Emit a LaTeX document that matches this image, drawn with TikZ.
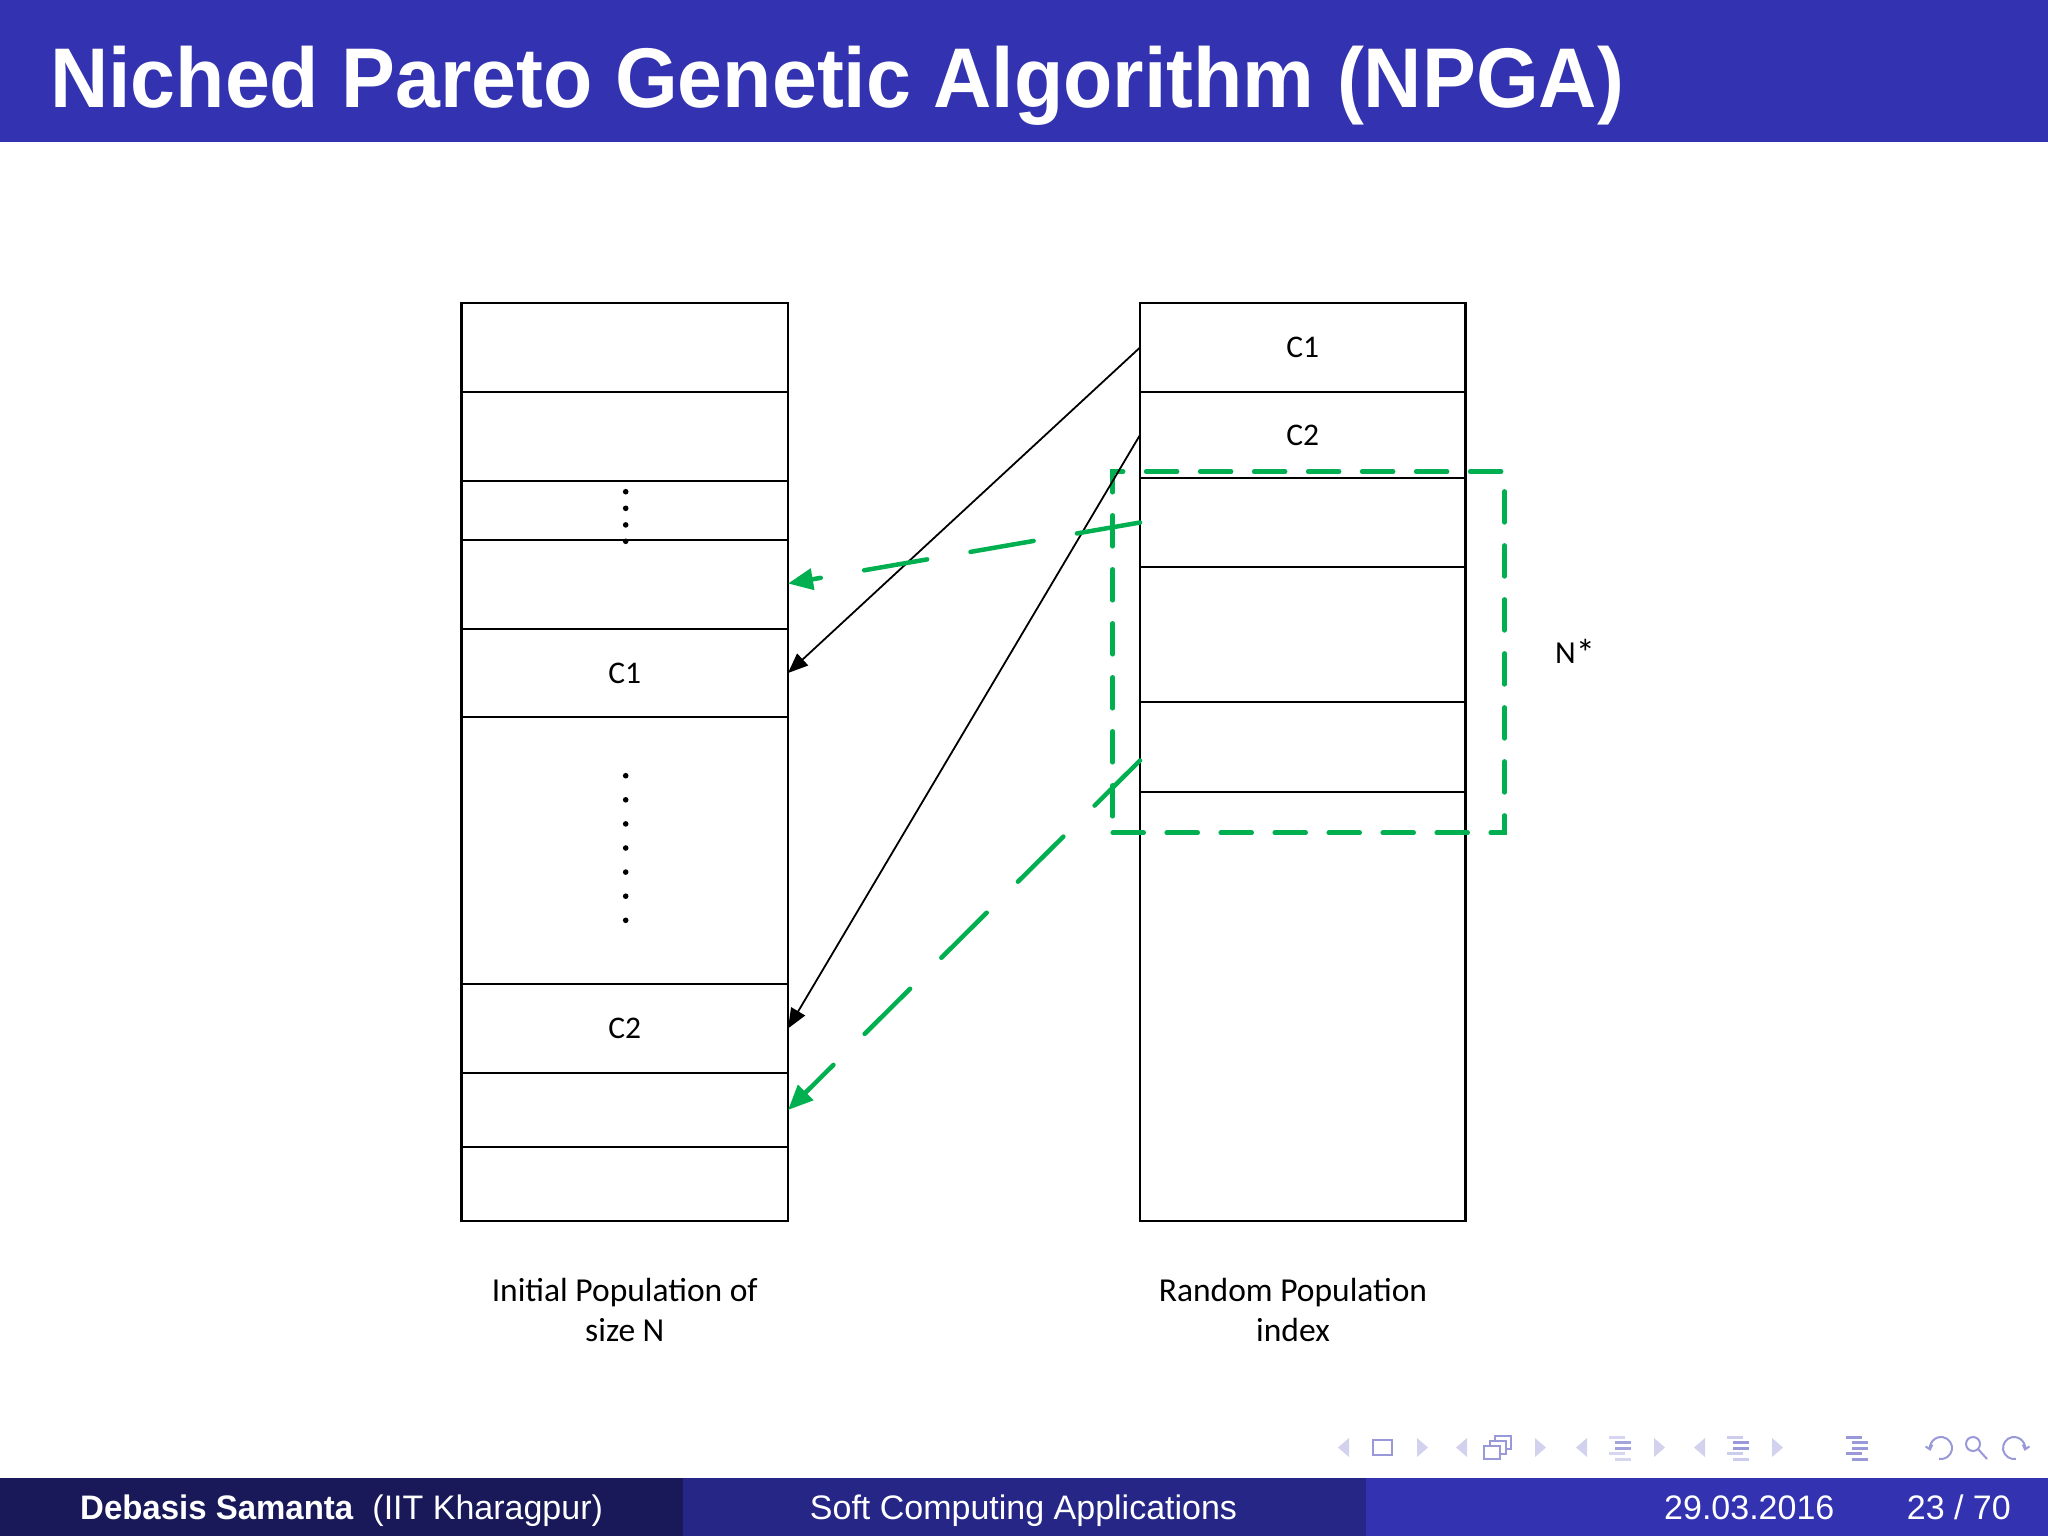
\documentclass[tikz,border=0pt]{standalone}
\usepackage{fontspec}
\setmainfont{Liberation Sans}
\newfontfamily\calib{Carlito}
\usetikzlibrary{arrows.meta}
\definecolor{struct}{rgb}{0.2,0.2,0.7}
\definecolor{pgreen}{HTML}{00B050}
\begin{document}
\begin{tikzpicture}[x=1pt,y=-1pt,
  lrow/.style={draw=black, line width=2.2pt, minimum width=326.5pt, inner sep=0pt, outer sep=0pt, font=\calib\fontsize{31.5}{37}\selectfont},
  rrow/.style={lrow, minimum width=325.5pt},
  blackarrow/.style={draw=black, line width=1.8pt, -{Triangle[length=20pt,width=16pt]}},
  greenarrow/.style={draw=pgreen, line width=4.5pt, line cap=round, dash pattern=on 64pt off 44pt, -{Triangle[length=25pt,width=21pt]}},
  greenbox/.style={draw=pgreen, line width=4.5pt, line cap=round, dash pattern=on 31pt off 23pt, inner sep=0pt, outer sep=0pt},
  caption/.style={font=\calib\fontsize{33.5}{40.5}\selectfont, align=center, inner sep=0pt},
  dotmark/.style={fill=black},
  footer/.style={text=white, inner sep=0pt, font=\fontsize{34}{40}\selectfont},
  navtri/.style={fill=struct!22},
  navicon/.style={draw=struct!50, line width=2pt},
  navbar/.style={line width=3pt}
]
\useasboundingbox (0,0) rectangle (2048,1536);
\fill[white] (0,0) rectangle (2048,1536);
% title bar
\fill[struct] (0,0) rectangle (2048,142);
\node[anchor=base west, text=white, inner sep=0pt, font=\bfseries\fontsize{80.7}{98}\selectfont] (title) at (50,108) {\scalebox{1}[1.05]{Niched Pareto Genetic Algorithm (NPGA)}};
% footer
\fill[struct!50!black] (0,1478) rectangle (683,1536);
\fill[struct!75!black] (683,1478) rectangle (1366,1536);
\fill[struct] (1366,1478) rectangle (2048,1536);
\node[footer, anchor=base west] (author) at (80,1519) {\scalebox{0.97}[1]{\textbf{Debasis Samanta}}~~(IIT Kharagpur)};
\node[footer, anchor=base] (course) at (1023.5,1519) {Soft Computing Applications};
\node[footer, anchor=base west] (date) at (1664,1519) {29.03.2016};
\node[footer, anchor=base east] (page) at (2011,1519) {23 / 70};
% navigation symbols
\foreach \c in {1344,1462,1582,1700} {\fill[navtri] (\c+5,1438) -- (\c-6,1447.5) -- (\c+5,1457) -- cycle;}
\foreach \c in {1422,1540,1659,1777} {\fill[navtri] (\c-5,1438) -- (\c+6,1447.5) -- (\c-5,1457) -- cycle;}
\draw[navicon] (1373,1440) rectangle (1392,1455);
\draw[navicon, fill=white] (1495,1436) rectangle (1511,1449);
\draw[navicon, fill=white] (1490,1441) rectangle (1506,1454);
\draw[navicon, fill=white] (1484,1446) rectangle (1500,1459);
\foreach \c/\lt/\dk in {1620/struct!20/struct!45,1738/struct!25/struct!50,1857/struct!50/struct!50} {
  \draw[navbar, \lt] (\c-11,1437) -- (\c+5,1437);
  \draw[navbar, \dk] (\c-5,1442.5) -- (\c+11,1442.5);
  \draw[navbar, \dk] (\c-5,1448) -- (\c+11,1448);
  \draw[navbar, \lt] (\c-11,1453.5) -- (\c+5,1453.5);
  \draw[navbar, \lt] (\c-5,1459) -- (\c+11,1459);
}
\draw[navicon, -{Straight Barb[length=4pt,width=7pt]}] (1941,1448) ++(100:11) arc[start angle=100, end angle=-195, radius=11];
\draw[navicon] (1973,1444) circle[radius=7];
\draw[navicon] (1978,1449) -- (1987,1459);
\draw[navicon, -{Straight Barb[length=4pt,width=7pt]}] (2014,1448) ++(80:11) arc[start angle=80, end angle=375, radius=11];
% left column
\node[lrow, minimum height=89pt] (L1) at (624.75,347.5) {};
\node[lrow, minimum height=89pt] (L2) at (624.75,436.5) {};
\node[lrow, minimum height=59pt] (L3) at (624.75,510.5) {};
\node[lrow, minimum height=89pt] (L4) at (624.75,584.5) {};
\node[lrow, minimum height=88pt] (L5) at (624.75,673) {C1};
\node[lrow, minimum height=267pt] (L6) at (624.75,850.5) {};
\node[lrow, minimum height=89pt] (L7) at (624.75,1028.5) {C2};
\node[lrow, minimum height=74pt] (L8) at (624.75,1110) {};
\node[lrow, minimum height=74pt] (L9) at (624.75,1184) {};
\foreach \y in {491.7,508.3,524.9,541.3} {\fill[dotmark] (625.7,\y) circle[radius=2.8];}
\foreach \k in {0,...,6} {\fill[dotmark] (625.7,775.7+24.1*\k) circle[radius=2.8];}
% right column
\node[rrow, minimum height=89pt] (R1) at (1302.75,347.5) {C1};
\node[rrow, minimum height=86pt] (R2) at (1302.75,435) {C2};
\node[rrow, minimum height=89pt] (R3) at (1302.75,522.5) {};
\node[rrow, minimum height=135pt] (R4) at (1302.75,634.5) {};
\node[rrow, minimum height=90pt] (R5) at (1302.75,747) {};
\node[rrow, minimum height=429pt] (R6) at (1302.75,1006.5) {};
% N* window
\node[greenbox, minimum width=391.7pt, minimum height=361pt] (win) at (1308.55,652.2) {};
\node[font=\calib\fontsize{32}{38}\selectfont, anchor=base west, inner sep=0pt] (nstar) at (1555,663) {N\raisebox{-3pt}{\scalebox{1.2}{*}}};
% connectors
\draw[blackarrow] (R1.west) -- (L5.east);
\draw[blackarrow] (R2.west) -- (L7.east);
\draw[greenarrow] (R3.west) -- ([yshift=1pt]L4.east);
\draw[greenarrow] ([yshift=-13.5pt]R5.west) -- (L8.east);
% captions
\node[caption, anchor=base] (capL) at (624.8,1341.5) {Initial Population of\\size N};
\node[caption, anchor=base] (capR) at (1293,1341.5) {Random Population\\index};
\end{tikzpicture}
\end{document}
